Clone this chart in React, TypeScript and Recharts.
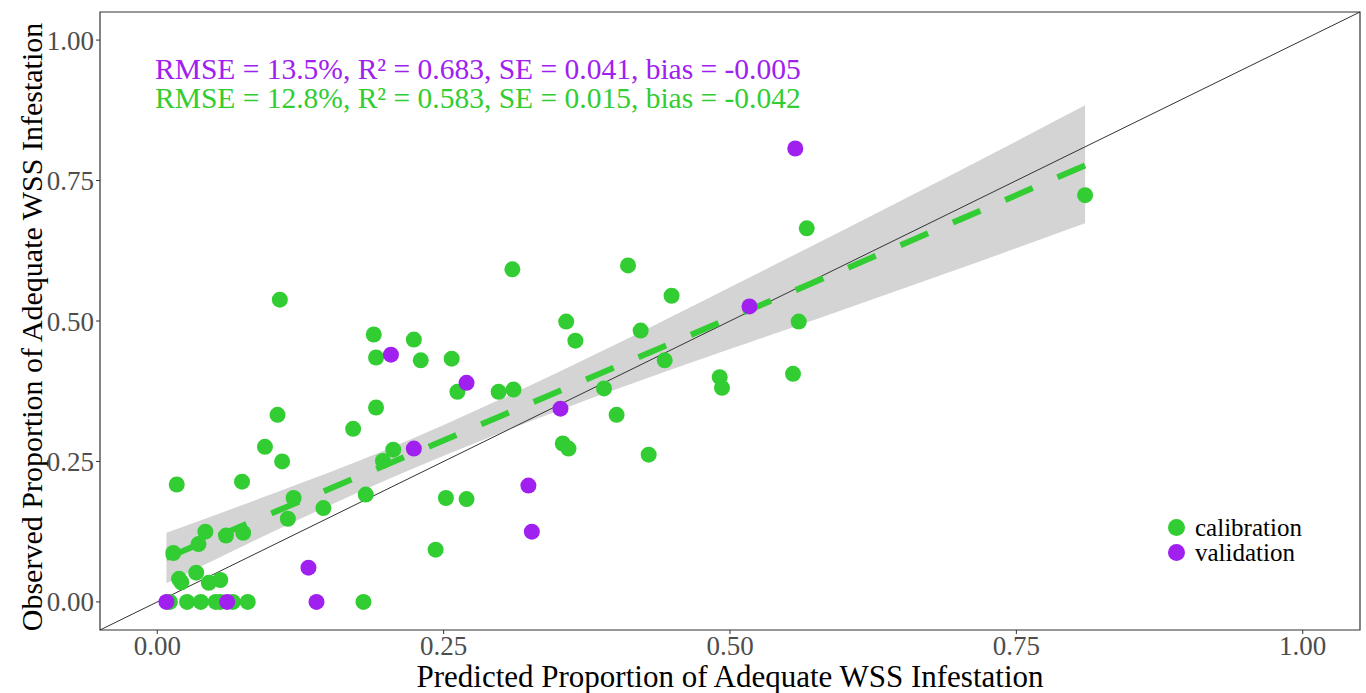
import {
  Area,
  ComposedChart,
  Line,
  ReferenceArea,
  ReferenceLine,
  Scatter,
  XAxis,
  YAxis,
} from "recharts";

// Observed vs predicted, calibration (green) + validation (purple),
// lm fit with 95% band, 1:1 reference line.

const GREEN = "#32CD32";
const PURPLE = "#A020F0";
const FONT = "'Liberation Serif', 'Times New Roman', serif";

const calibX = [
  0.81, 0.567, 0.56, 0.555, 0.491, 0.493, 0.449, 0.411, 0.422, 0.443, 0.429,
  0.401, 0.39, 0.357, 0.365, 0.354, 0.359, 0.31, 0.311, 0.298, 0.27, 0.252,
  0.243, 0.257, 0.262, 0.224, 0.23, 0.206, 0.197, 0.191, 0.189, 0.191, 0.171,
  0.182, 0.145, 0.119, 0.114, 0.107, 0.105, 0.109, 0.094, 0.074, 0.075, 0.06,
  0.042, 0.036, 0.014, 0.017, 0.019, 0.021, 0.034, 0.045, 0.055, 0.011,
  0.026, 0.038, 0.051, 0.055, 0.066, 0.079, 0.18,
];
const calibY = [
  0.724, 0.665, 0.499, 0.406, 0.4, 0.381, 0.545, 0.599, 0.483, 0.43, 0.262,
  0.333, 0.38, 0.499, 0.465, 0.282, 0.273, 0.592, 0.378, 0.374, 0.183, 0.185,
  0.093, 0.433, 0.374, 0.467, 0.43, 0.271, 0.251, 0.435, 0.476, 0.346, 0.308,
  0.191, 0.167, 0.185, 0.148, 0.538, 0.333, 0.25, 0.276, 0.214, 0.123, 0.118,
  0.125, 0.103, 0.087, 0.209, 0.041, 0.035, 0.052, 0.034, 0.039, 0, 0, 0, 0,
  0, 0, 0, 0,
];

const validX = [0.557, 0.517, 0.352, 0.27, 0.204, 0.224, 0.324, 0.327, 0.132, 0.139, 0.008, 0.061];
const validY = [0.807, 0.526, 0.344, 0.39, 0.44, 0.273, 0.207, 0.125, 0.061, 0, 0, 0];

// fitted line and confidence band (calibration)
const fitX = [0.008, 0.1, 0.2, 0.3, 0.4, 0.5, 0.6, 0.7, 0.81];
const fitY = [0.078, 0.158, 0.244, 0.331, 0.418, 0.505, 0.592, 0.68, 0.777];
const bandLow = [0.033, 0.124, 0.217, 0.301, 0.378, 0.45, 0.521, 0.593, 0.674];
const bandHigh = [0.123, 0.192, 0.271, 0.361, 0.458, 0.56, 0.663, 0.767, 0.884];

const ticks = [0, 0.25, 0.5, 0.75, 1];

const calib = calibX.map((x, i) => ({ x, y: calibY[i] }));
const valid = validX.map((x, i) => ({ x, y: validY[i] }));
const fit = fitX.map((x, i) => ({ x, fit: fitY[i], band: [bandLow[i], bandHigh[i]] }));

const dot = (color: string) => (p: { cx?: number; cy?: number }) =>
  <circle cx={p.cx} cy={p.cy} r={8} fill={color} />;

const tickStyle = { fill: "#4D4D4D", fontSize: 27, fontFamily: FONT };

export default function App() {
  return (
    <div style={{ position: "absolute", left: 0, top: 0, width: 1366, height: 693, background: "#fff", fontFamily: FONT }}>
      <ComposedChart width={1366} height={693} data={fit} margin={{ top: 12, right: 6, bottom: 0, left: 0 }}>
        <XAxis
          dataKey="x"
          type="number"
          domain={[-0.05, 1.05]}
          allowDataOverflow
          ticks={ticks}
          tickFormatter={(v: number) => v.toFixed(2)}
          axisLine={false}
          tickSize={4}
          tickLine={{ stroke: "#333" }}
          tick={tickStyle}
          height={63}
          label={{
            content: () => (
              <text x={730} y={687} textAnchor="middle" fontSize={31} fontFamily={FONT} fill="#000">
                Predicted Proportion of Adequate WSS Infestation
              </text>
            ),
          }}
        />
        <YAxis
          type="number"
          domain={[-0.05, 1.05]}
          allowDataOverflow
          ticks={ticks}
          tickFormatter={(v: number) => v.toFixed(2)}
          axisLine={false}
          tickSize={4}
          tickLine={{ stroke: "#333" }}
          tick={tickStyle}
          width={100}
          label={{
            content: () => (
              <text x={42} y={327} transform="rotate(-90 42 327)" textAnchor="middle" fontSize={30} fontFamily={FONT} fill="#000">
                Observed Proportion of Adequate WSS Infestation
              </text>
            ),
          }}
        />
        <Area type="monotone" dataKey="band" stroke="none" fill="#D4D4D4" fillOpacity={1} isAnimationActive={false} />
        <ReferenceLine
          segment={[{ x: -0.05, y: -0.05 }, { x: 1.05, y: 1.05 }]}
          stroke="#333"
          strokeWidth={1}
          ifOverflow="visible"
        />
        <Line dataKey="fit" stroke={GREEN} strokeWidth={6} strokeDasharray="30 27" dot={false} isAnimationActive={false} />
        <Scatter data={calib} dataKey="y" fill={GREEN} shape={dot(GREEN)} isAnimationActive={false} />
        <Scatter data={valid} dataKey="y" fill={PURPLE} shape={dot(PURPLE)} isAnimationActive={false} />
        <ReferenceArea x1={-0.05} x2={1.05} y1={-0.05} y2={1.05} fill="none" stroke="#333" strokeWidth={1.2} ifOverflow="visible" />
      </ComposedChart>

      <div style={{ position: "absolute", left: 155, top: 55, fontSize: 29.5, lineHeight: "29px", whiteSpace: "nowrap" }}>
        <div style={{ color: PURPLE }}>RMSE = 13.5%, R² = 0.683, SE = 0.041, bias = -0.005</div>
        <div style={{ color: GREEN }}>RMSE = 12.8%, R² = 0.583, SE = 0.015, bias = -0.042</div>
      </div>

      <div style={{ position: "absolute", left: 1168, top: 515, fontSize: 25, lineHeight: "25px" }}>
        {[["calibration", GREEN], ["validation", PURPLE]].map(([name, c]) => (
          <div key={name} style={{ display: "flex", alignItems: "center", height: 25 }}>
            <span style={{ width: 17, height: 17, borderRadius: 9, background: c, marginRight: 10 }} />
            {name}
          </div>
        ))}
      </div>
    </div>
  );
}
